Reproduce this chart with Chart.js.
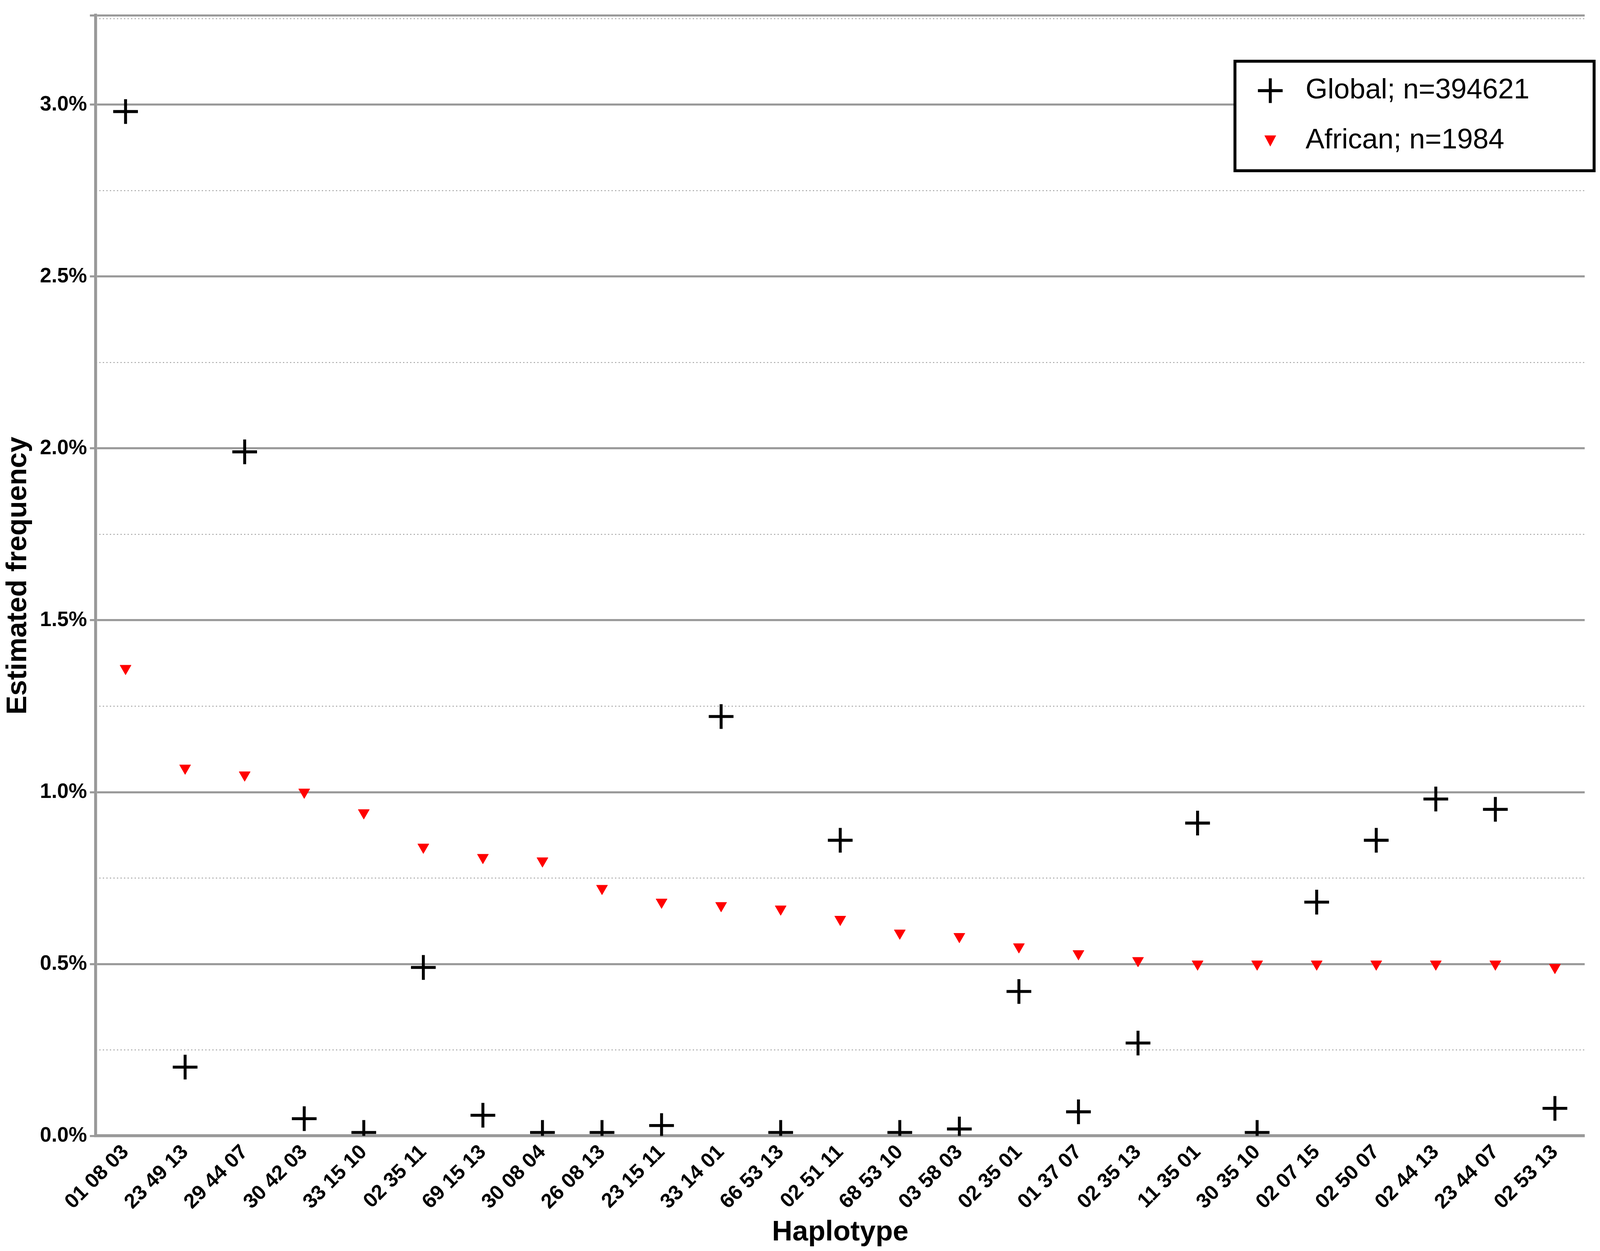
<!DOCTYPE html>
<html>
<head>
<meta charset="utf-8">
<script src="https://cdn.jsdelivr.net/npm/chart.js@4"></script>
<style>
  html, body { margin: 0; padding: 0; background: #fff; overflow: hidden; }
  #wrap { width: 100vw; height: 100vh; position: relative; }
</style>
</head>
<body>
<div id="wrap"><canvas id="chart"></canvas></div>
<script>
const haplotypes = ['01 08 03', '23 49 13', '29 44 07', '30 42 03', '33 15 10', '02 35 11', '69 15 13',
  '30 08 04', '26 08 13', '23 15 11', '33 14 01', '66 53 13', '02 51 11', '68 53 10', '03 58 03',
  '02 35 01', '01 37 07', '02 35 13', '11 35 01', '30 35 10', '02 07 15', '02 50 07', '02 44 13',
  '23 44 07', '02 53 13'];
const globalFreq = [2.98, 0.20, 1.99, 0.05, 0.01, 0.49, 0.06, 0.01, 0.01, 0.03, 1.22, 0.01, 0.86,
  0.01, 0.02, 0.42, 0.07, 0.27, 0.91, 0.01, 0.68, 0.86, 0.98, 0.95, 0.08];
const africanFreq = [1.36, 1.07, 1.05, 1.00, 0.94, 0.84, 0.81, 0.80, 0.72, 0.68, 0.67, 0.66, 0.63,
  0.59, 0.58, 0.55, 0.53, 0.51, 0.50, 0.50, 0.50, 0.50, 0.50, 0.50, 0.49];
const seriesLabels = ['Global; n=394621', 'African; n=1984'];

const FONT = "'Liberation Sans', Arial, sans-serif";
// everything sized for a 5435px wide page, scaled to whatever the window really is
const k = window.innerWidth / 5435;
const s = v => v * k;

// dotted minor lines at the quarter-percent marks
const minorGrid = {
  id: 'minorGrid',
  beforeDatasetsDraw(chart) {
    const { ctx, chartArea, scales } = chart;
    ctx.save();
    ctx.strokeStyle = '#999';
    ctx.lineWidth = s(3);
    ctx.setLineDash([s(4), s(8)]);
    for (let v = 0.25; v < 3.3; v += 0.5) {
      const y = scales.y.getPixelForValue(v);
      ctx.beginPath();
      ctx.moveTo(chartArea.left, y);
      ctx.lineTo(chartArea.right, y);
      ctx.stroke();
    }
    ctx.restore();
  }
};

// boxed legend in the upper right
const boxLegend = {
  id: 'boxLegend',
  afterDraw(chart) {
    const ctx = chart.ctx;
    const x = s(4195), y = s(208), w = s(1220), h = s(372);
    ctx.save();
    ctx.fillStyle = '#fff';
    ctx.fillRect(x, y, w, h);
    ctx.strokeStyle = '#000';
    ctx.lineWidth = s(10);
    ctx.strokeRect(x, y, w, h);
    const cx = x + s(120), cy = y + s(100);
    ctx.beginPath();
    ctx.moveTo(cx - s(42), cy); ctx.lineTo(cx + s(42), cy);
    ctx.moveTo(cx, cy - s(42)); ctx.lineTo(cx, cy + s(42));
    ctx.stroke();
    const tx = x + s(120), ty = y + s(270);
    ctx.fillStyle = '#ff0000';
    ctx.beginPath();
    ctx.moveTo(tx - s(20), ty - s(18)); ctx.lineTo(tx + s(20), ty - s(18)); ctx.lineTo(tx, ty + s(20));
    ctx.closePath();
    ctx.fill();
    ctx.fillStyle = '#000';
    ctx.font = s(96) + 'px ' + FONT;
    ctx.textBaseline = 'middle';
    ctx.fillText(seriesLabels[0], x + s(240), cy);
    ctx.fillText(seriesLabels[1], x + s(240), ty);
    ctx.restore();
  }
};

new Chart(document.getElementById('chart').getContext('2d'), {
  type: 'line',
  data: {
    labels: haplotypes,
    datasets: [{
      label: seriesLabels[0],
      data: globalFreq,
      showLine: false,
      pointStyle: 'cross',
      pointRadius: s(42),
      pointBorderWidth: s(10),
      borderColor: '#000',
      backgroundColor: '#000'
    }, {
      label: seriesLabels[1],
      data: africanFreq,
      showLine: false,
      pointStyle: 'triangle',
      rotation: 180,
      pointRadius: s(22),
      pointBorderWidth: 1,
      borderColor: '#ff0000',
      backgroundColor: '#ff0000'
    }]
  },
  options: {
    responsive: true,
    maintainAspectRatio: false,
    animation: false,
    layout: { padding: { top: s(8), right: 0, left: 0, bottom: 0 } },
    plugins: {
      legend: { display: false },
      tooltip: { enabled: false }
    },
    scales: {
      x: {
        offset: true,
        grid: { display: false },
        border: { color: '#999', width: s(10) },
        ticks: {
          color: '#000',
          minRotation: 45,
          maxRotation: 45,
          font: { family: FONT, size: s(70), weight: 'bold' }
        },
        title: {
          display: true,
          text: 'Haplotype',
          color: '#000',
          padding: { top: 0 },
          font: { family: FONT, size: s(96), weight: 'bold' }
        }
      },
      y: {
        min: 0,
        max: 3.26,
        grid: { color: '#999', lineWidth: s(7), tickLength: s(20) },
        border: { color: '#999', width: s(10) },
        ticks: {
          stepSize: 0.5,
          color: '#000',
          padding: s(10),
          font: { family: FONT, size: s(70), weight: 'bold' },
          callback: v => v > 3.01 ? '' : v.toFixed(1) + '%'
        },
        title: {
          display: true,
          text: 'Estimated frequency',
          color: '#000',
          font: { family: FONT, size: s(96), weight: 'bold' }
        }
      }
    }
  },
  plugins: [minorGrid, boxLegend]
});
</script>
</body>
</html>
